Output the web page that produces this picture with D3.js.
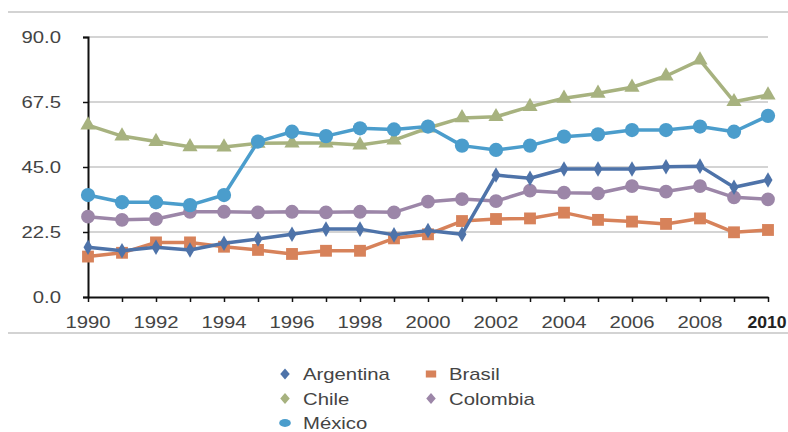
<!DOCTYPE html>
<html>
<head>
<meta charset="utf-8">
<script src="https://cdn.jsdelivr.net/npm/d3@7"></script>
<style>
  body { margin: 0; background: #fff; }
  text { font-family: "Liberation Sans", Arial, sans-serif; }
</style>
</head>
<body>
<div id="chart"></div>
<script>
// data
var years = d3.range(1990, 2011);
var argentina = [17.2, 16.0, 17.2, 16.3, 18.6, 20.1, 21.7, 23.5, 23.5, 21.5, 23.0, 21.7, 42.2, 41.1, 44.3, 44.3, 44.3, 45.1, 45.3, 38.0, 40.5];
var brasil    = [14.0, 15.3, 18.9, 18.9, 17.4, 16.3, 14.9, 16.0, 16.0, 20.3, 21.7, 26.3, 27.0, 27.2, 29.2, 26.7, 26.1, 25.3, 27.2, 22.4, 23.2];
var chile     = [59.5, 55.7, 53.8, 52.0, 51.9, 53.2, 53.3, 53.3, 52.6, 54.3, 58.5, 62.0, 62.4, 65.9, 68.8, 70.5, 72.6, 76.5, 82.0, 67.6, 69.9];
var colombia  = [27.8, 26.7, 27.0, 29.5, 29.5, 29.3, 29.5, 29.3, 29.5, 29.3, 33.0, 33.9, 33.2, 36.8, 36.1, 35.9, 38.4, 36.5, 38.4, 34.5, 33.8];
var mexico    = [35.3, 32.8, 32.8, 31.8, 35.3, 53.8, 57.2, 55.7, 58.4, 58.0, 59.0, 52.4, 50.9, 52.4, 55.5, 56.3, 57.8, 57.8, 59.0, 57.2, 62.7];
var yTicks = [0, 22.5, 45, 67.5, 90];
var xTicks = [1990, 1992, 1994, 1996, 1998, 2000, 2002, 2004, 2006, 2008, 2010];

var colors = {
  "Argentina": "#4e73a9",
  "Brasil": "#d7825a",
  "Chile": "#a7b27f",
  "Colombia": "#9c86a8",
  "México": "#4b9dcc"
};

// draw order: back to front
var series = [
  { name: "Colombia",  values: colombia,  symbol: d3.symbolCircle,   size: 150 },
  { name: "Chile",     values: chile,     symbol: d3.symbolTriangle, size: 100 },
  { name: "México",    values: mexico,    symbol: d3.symbolCircle,   size: 160 },
  { name: "Brasil",    values: brasil,    symbol: d3.symbolSquare,   size: 140 },
  { name: "Argentina", values: argentina, symbol: d3.symbolDiamond,  size: 70 }
];

var svgWidth = 788;
var svgHeight = 432;
var margin = { top: 37, left: 88 };
var width = 680;
var height = 260;
var stretch = 1.27; // the source text is wide

var svg = d3.select("#chart")
  .append("svg")
  .attr("width", svgWidth)
  .attr("height", svgHeight);

// frame lines above and below the chart
svg.append("line").attr("x1", 8).attr("x2", 788).attr("y1", 12).attr("y2", 12)
  .attr("stroke", "#c4c4c4").attr("stroke-width", 1.5);
svg.append("line").attr("x1", 8).attr("x2", 788).attr("y1", 333).attr("y2", 333)
  .attr("stroke", "#c4c4c4").attr("stroke-width", 1.5);

var chartGroup = svg.append("g")
  .attr("transform", `translate(${margin.left}, ${margin.top})`);

var x = d3.scaleLinear().domain([1990, 2010]).range([0, width]);
var y = d3.scaleLinear().domain([0, 90]).range([height, 0]);

// gridlines
chartGroup.append("g")
  .selectAll("line")
  .data(yTicks.filter(d => d > 0))
  .enter()
  .append("line")
  .attr("x1", 0)
  .attr("x2", width)
  .attr("y1", d => y(d))
  .attr("y2", d => y(d))
  .attr("stroke", "#a9a9a9")
  .attr("stroke-width", 1.2);

// y axis
var leftAxis = d3.axisLeft(y).tickValues(yTicks).tickFormat("").tickSize(5);
var yAxis = chartGroup.append("g").call(leftAxis);
yAxis.select(".domain").attr("stroke", "#111").attr("stroke-width", 2);
yAxis.selectAll(".tick line").attr("stroke", "#111").attr("stroke-width", 1.5);

chartGroup.append("g")
  .selectAll("text")
  .data(yTicks)
  .enter()
  .append("text")
  .attr("transform", d => `translate(-27, ${y(d) + 6}) scale(${stretch}, 1)`)
  .attr("text-anchor", "end")
  .attr("font-size", 16)
  .attr("fill", "#444")
  .text(d3.format(".1f"));

// x axis
var bottomAxis = d3.axisBottom(x).tickValues(years).tickFormat("").tickSize(5).tickSizeOuter(0);
var xAxis = chartGroup.append("g")
  .attr("transform", `translate(0, ${height})`)
  .call(bottomAxis);
xAxis.select(".domain").attr("stroke", "#111").attr("stroke-width", 2);
xAxis.selectAll(".tick line").attr("stroke", "#111").attr("stroke-width", 1.5);

// last label is bold and sits on the right edge, so keep it a bit narrower
chartGroup.append("g")
  .selectAll("text")
  .data(xTicks)
  .enter()
  .append("text")
  .attr("transform", d => d === 2010
    ? `translate(${width - 1}, ${height + 31}) scale(1.1, 1)`
    : `translate(${x(d)}, ${height + 31}) scale(${stretch}, 1)`)
  .attr("text-anchor", "middle")
  .attr("font-size", 16)
  .attr("font-weight", d => d === 2010 ? "bold" : "normal")
  .attr("fill", d => d === 2010 ? "#222" : "#444")
  .text(d => d);

// lines and markers
var line = d3.line()
  .x((d, i) => x(years[i]))
  .y(d => y(d));

series.forEach(function(s) {
  var g = chartGroup.append("g");
  g.append("path")
    .datum(s.values)
    .attr("d", line)
    .attr("fill", "none")
    .attr("stroke", colors[s.name])
    .attr("stroke-width", 3.5)
    .attr("stroke-linejoin", "round");
  g.selectAll("path.marker")
    .data(s.values)
    .enter()
    .append("path")
    .attr("class", "marker")
    .attr("d", d3.symbol().type(s.symbol).size(s.size))
    .attr("transform", (d, i) => `translate(${x(years[i])}, ${y(d)})`)
    .attr("fill", colors[s.name]);
});

// legend
var legendNames = ["Argentina", "Brasil", "Chile", "Colombia", "México"];
var legendCol = [0, 1, 0, 1, 0];
var legendRow = [0, 0, 1, 1, 2];
var legendSymbols = [d3.symbolDiamond, d3.symbolSquare, d3.symbolDiamond, d3.symbolDiamond, d3.symbolCircle];

var legend = svg.append("g");
legendNames.forEach(function(name, i) {
  var lx = 285 + legendCol[i] * 146;
  var ly = 374 + legendRow[i] * 24.5;
  legend.append("path")
    .attr("d", d3.symbol().type(legendSymbols[i]).size(legendSymbols[i] === d3.symbolDiamond ? 40 : 55))
    .attr("transform", `translate(${lx}, ${ly}) scale(1.4, 0.95)`)
    .attr("fill", colors[name]);
  legend.append("text")
    .attr("transform", `translate(${lx + 18}, ${ly + 6}) scale(${stretch}, 1)`)
    .attr("font-size", 16)
    .attr("fill", "#444")
    .text(name);
});
</script>
</body>
</html>
